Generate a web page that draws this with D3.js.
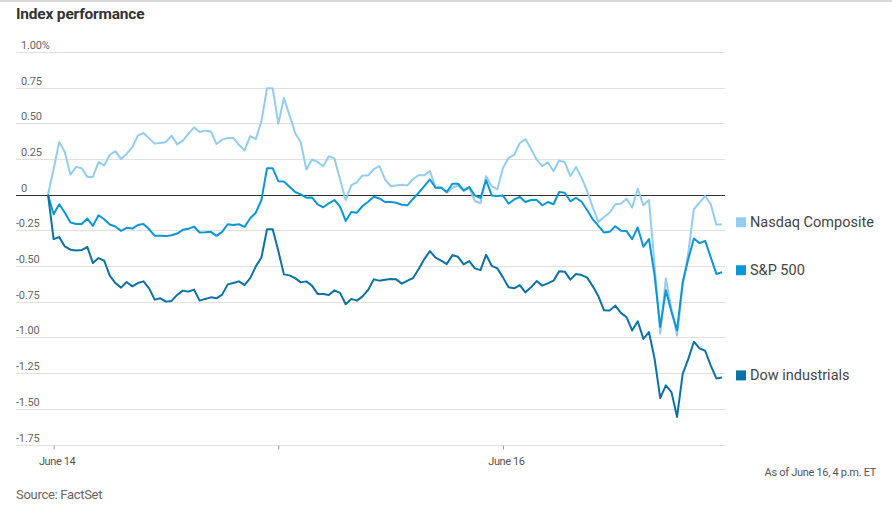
<!DOCTYPE html>
<html>
<head>
<meta charset="utf-8">
<script src="https://cdn.jsdelivr.net/npm/d3@7"></script>
<style>
  html, body { margin: 0; padding: 0; background: #fff; }
  svg { display: block; font-family: Roboto, "Noto Sans", sans-serif; }
</style>
</head>
<body>
<svg id="chart" width="892" height="516"></svg>
<script>
// ---- data (percent change since June 14 open, 10-minute intervals) ----
const nasdaq = [
  0, 0.18, 0.37, 0.30, 0.14, 0.195, 0.186, 0.125, 0.125, 0.228,
  0.205, 0.28, 0.305, 0.25, 0.286, 0.333, 0.414, 0.433, 0.395, 0.358,
  0.363, 0.37, 0.414, 0.353, 0.379, 0.426, 0.472, 0.44, 0.449, 0.443,
  0.355, 0.386, 0.397, 0.397, 0.35, 0.31, 0.41, 0.39, 0.514, 0.746,
  0.746, 0.497, 0.677, 0.556, 0.433, 0.368, 0.177, 0.247, 0.23, 0.20,
  0.27, 0.253, 0.107, -0.037, 0.065, 0.088, 0.135, 0.135, 0.18, 0.20,
  0.107, 0.06, 0.065, 0.07, 0.065, 0.11, 0.137, 0.137, 0.165, 0.049,
  0.053, 0.014, 0.049, 0.065, 0.026, 0.049, -0.044, -0.06, 0.13, 0.06,
  0.037, 0.188, 0.258, 0.28, 0.362, 0.39, 0.32, 0.246, 0.20, 0.228,
  0.165, 0.24, 0.228, 0.13, 0.195, 0.118, 0.026, -0.09, -0.19, -0.156,
  -0.125, -0.067, -0.063, -0.028, -0.09, 0.042, -0.074, -0.037, -0.497, -0.974,
  -0.586, -0.80, -0.986, -0.637, -0.405, -0.10, -0.056, -0.009, -0.067, -0.21,
  -0.207
];
const sp500 = [
  0, -0.137, -0.067, -0.126, -0.195, -0.205, -0.205, -0.167, -0.218, -0.144,
  -0.172, -0.209, -0.223, -0.253, -0.232, -0.237, -0.212, -0.205, -0.242, -0.288,
  -0.288, -0.29, -0.284, -0.272, -0.246, -0.239, -0.223, -0.265, -0.263, -0.26,
  -0.288, -0.26, -0.207, -0.212, -0.207, -0.225, -0.165, -0.126, -0.037, 0.186,
  0.186, 0.095, 0.093, 0.056, 0.019, 0.002, -0.021, -0.019, -0.067, -0.088,
  -0.06, -0.037, -0.084, -0.184, -0.121, -0.126, -0.079, -0.049, -0.014, -0.026,
  -0.051, -0.051, -0.056, -0.07, -0.074, -0.028, 0.014, 0.06, 0.107, 0.049,
  0.049, 0.019, 0.077, 0.077, 0.03, 0.053, -0.005, -0.023, 0.102, -0.005,
  -0.009, -0.005, -0.063, -0.033, -0.016, -0.051, -0.037, -0.037, -0.074, -0.051,
  -0.067, 0.019, 0.014, -0.046, -0.021, -0.049, -0.109, -0.172, -0.218, -0.265,
  -0.26, -0.221, -0.253, -0.255, -0.311, -0.23, -0.364, -0.311, -0.566, -0.926,
  -0.67, -0.82, -0.949, -0.612, -0.45, -0.306, -0.339, -0.323, -0.439, -0.555,
  -0.543
];
const dow = [
  0, -0.311, -0.297, -0.362, -0.385, -0.39, -0.388, -0.365, -0.479, -0.444,
  -0.462, -0.567, -0.619, -0.651, -0.612, -0.642, -0.619, -0.607, -0.656, -0.735,
  -0.726, -0.749, -0.744, -0.702, -0.672, -0.679, -0.665, -0.742, -0.73, -0.719,
  -0.726, -0.70, -0.628, -0.619, -0.607, -0.633, -0.584, -0.502, -0.44, -0.242,
  -0.242, -0.393, -0.558, -0.565, -0.584, -0.614, -0.607, -0.637, -0.695, -0.695,
  -0.702, -0.67, -0.688, -0.767, -0.73, -0.742, -0.712, -0.667, -0.593, -0.602,
  -0.595, -0.59, -0.593, -0.623, -0.602, -0.584, -0.521, -0.451, -0.395, -0.441,
  -0.462, -0.486, -0.423, -0.435, -0.488, -0.465, -0.516, -0.528, -0.421, -0.498,
  -0.516, -0.579, -0.649, -0.656, -0.633, -0.684, -0.649, -0.605, -0.637, -0.621,
  -0.602, -0.537, -0.539, -0.595, -0.556, -0.563, -0.581, -0.642, -0.712, -0.81,
  -0.812, -0.777, -0.828, -0.858, -0.951, -0.886, -1.01, -0.963, -1.15, -1.425,
  -1.336, -1.383, -1.557, -1.255, -1.15, -1.03, -1.077, -1.093, -1.198, -1.287,
  -1.28
];
const seriesNames = ["Nasdaq Composite", "S&P 500", "Dow industrials"];
const seriesColors = ["#93cdee", "#0b96d7", "#0b72a6"];
const yTicks = [1.00, 0.75, 0.50, 0.25, 0, -0.25, -0.50, -0.75, -1.00, -1.25, -1.50, -1.75];
const yTickLabels = ["1.00%", "0.75", "0.50", "0.25", "0", "-0.25", "-0.50", "-0.75", "-1.00", "-1.25", "-1.50", "-1.75"];
const xTickIndex = [1, 41, 81];
const xTickLabels = ["June 14", "", "June 16"];

// ---- layout ----
const svg = d3.select("#chart");
const W = 892, H = 516;
const gridLeft = 16, gridRight = 725;
const x = d3.scaleLinear().domain([0, nasdaq.length - 1]).range([48, 722]);
const y = d3.scaleLinear().domain([-1.75, 1.00]).range([444.5, 52]);

// top rule
svg.append("rect").attr("x", 0).attr("y", 0).attr("width", W).attr("height", 2).attr("fill", "#d9d9d9");

// title
svg.append("text").attr("x", 16).attr("y", 19)
  .attr("font-size", 15.5).attr("font-weight", 700).attr("fill", "#333")
  .attr("letter-spacing", -0.2)
  .text("Index performance");

// gridlines + y labels
const gy = svg.append("g");
yTicks.forEach((t, i) => {
  gy.append("line")
    .attr("x1", gridLeft).attr("x2", gridRight)
    .attr("y1", Math.round(y(t)) + 0.5).attr("y2", Math.round(y(t)) + 0.5)
    .attr("stroke", t === 0 ? "#333" : "#e0e0e0").attr("stroke-width", 1);
  gy.append("text")
    .attr("x", t < 0 ? 16 : 21).attr("y", y(t) - 3)
    .attr("font-size", 11).attr("fill", "#666").attr("letter-spacing", -0.2)
    .text(yTickLabels[i]);
});

// x axis
const xAxis = d3.axisBottom(x).tickValues(xTickIndex).tickSize(4).tickPadding(8)
  .tickFormat((d, i) => xTickLabels[i]);
const gx = svg.append("g").attr("transform", `translate(0,${Math.round(y(-1.75)) + 0.5})`).call(xAxis);
gx.select(".domain").remove();
gx.selectAll(".tick line").attr("stroke", "#999");
gx.selectAll(".tick text").attr("font-size", 11).attr("fill", "#555")
  .attr("font-family", "Roboto, sans-serif").attr("letter-spacing", -0.4).attr("dx", 3);

// lines
const line = d3.line().x((d, i) => x(i)).y(d => y(d));
const allSeries = [nasdaq, sp500, dow];
allSeries.forEach((s, k) => {
  svg.append("path").datum(s)
    .attr("d", line)
    .attr("fill", "none")
    .attr("stroke", seriesColors[k])
    .attr("stroke-width", 2)
    .attr("stroke-linejoin", "round");
});

// legend at line ends
allSeries.forEach((s, k) => {
  const cy = y(s[s.length - 1]) - 2;
  svg.append("rect").attr("x", 736).attr("y", cy - 5).attr("width", 10).attr("height", 10)
    .attr("fill", seriesColors[k]);
  svg.append("text").attr("x", 750).attr("y", cy + 5)
    .attr("font-size", 14.5).attr("fill", "#444")
    .text(seriesNames[k]);
});

// footer
svg.append("text").attr("x", 876).attr("y", 476).attr("text-anchor", "end")
  .attr("font-size", 11).attr("fill", "#555").attr("letter-spacing", -0.3)
  .text("As of June 16, 4 p.m. ET");
svg.append("text").attr("x", 16).attr("y", 499)
  .attr("font-size", 13).attr("fill", "#666").attr("letter-spacing", -0.3)
  .text("Source: FactSet");
</script>
</body>
</html>
